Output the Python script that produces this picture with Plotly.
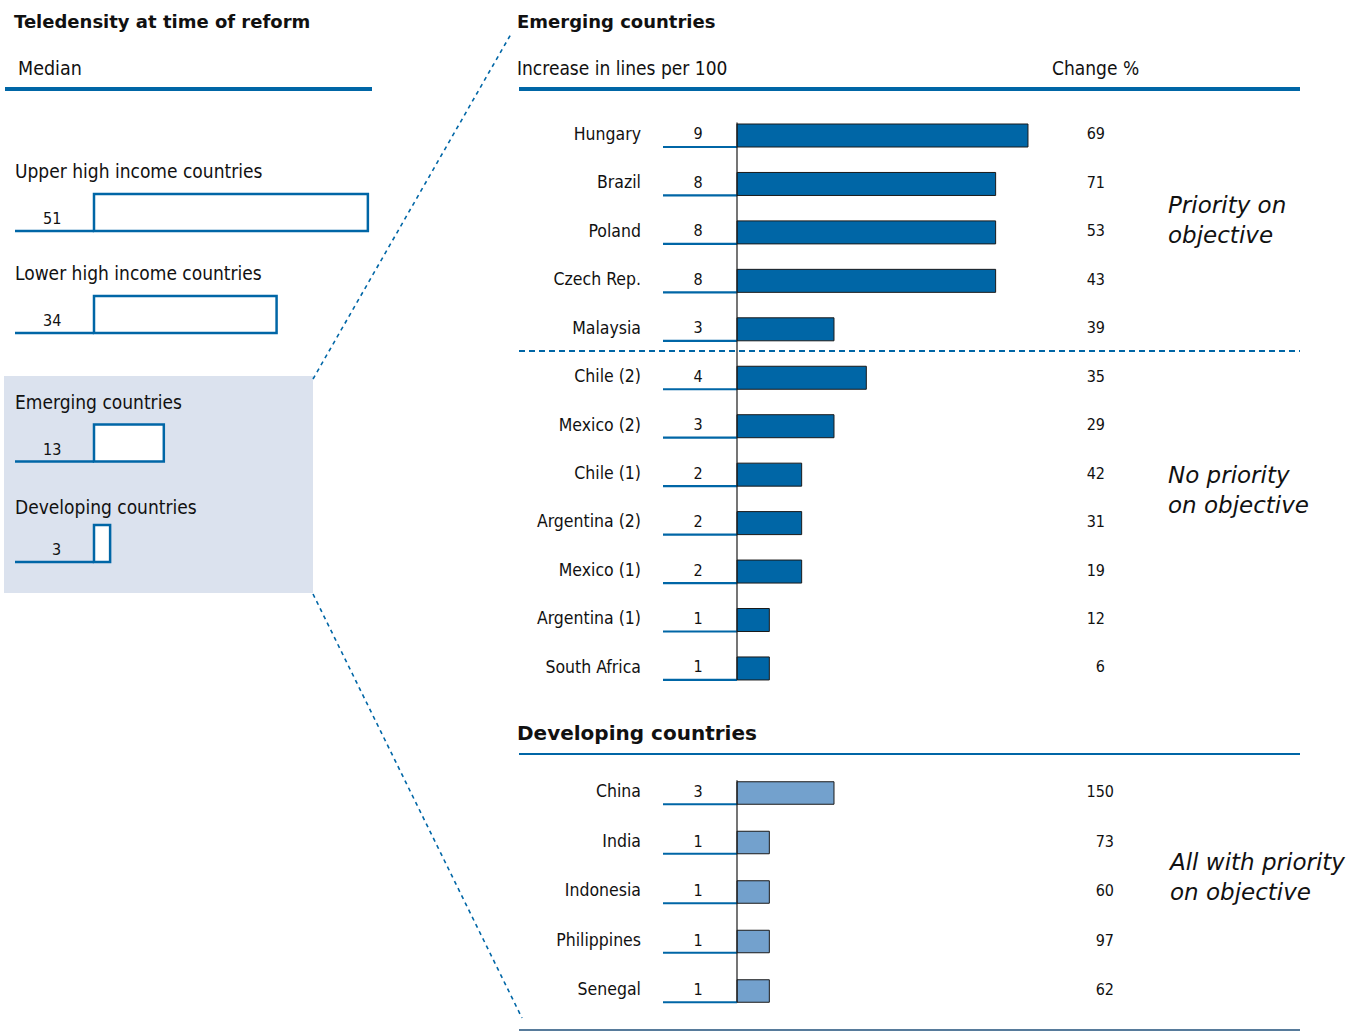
import plotly.graph_objects as go

W, H = 1357, 1032
BLUE = "#0066a6"
LIGHT = "#73a1cd"
SHADE = "#dbe2ee"
DARK = "#1a1a1a"
NARROW = "Liberation Sans Narrow, Arial Narrow, DejaVu Sans Condensed, Roboto Condensed, sans-serif"
HEAD = "DejaVu Sans, Verdana, sans-serif"

# ---------------- data ----------------
emerging_countries = ["Hungary", "Brazil", "Poland", "Czech Rep.", "Malaysia",
                      "Chile (2)", "Mexico (2)", "Chile (1)", "Argentina (2)",
                      "Mexico (1)", "Argentina (1)", "South Africa"]
emerging_increase = [9, 8, 8, 8, 3, 4, 3, 2, 2, 2, 1, 1]
emerging_change = [69, 71, 53, 43, 39, 35, 29, 42, 31, 19, 12, 6]

developing_countries = ["China", "India", "Indonesia", "Philippines", "Senegal"]
developing_increase = [3, 1, 1, 1, 1]
developing_change = [150, 73, 60, 97, 62]

median_groups_high = ["Upper high income countries", "Lower high income countries"]
median_values_high = [51, 34]
median_groups_low = ["Emerging countries", "Developing countries"]
median_values_low = [13, 3]

group_notes = ["Priority on<br>objective", "No priority<br>on objective",
               "All with priority<br>on objective"]

# ---------------- geometry helpers ----------------
def xp(px):
    return px / W

def yp(py):
    return 1 - py / H

U = 32.33          # px per line (right panel)
X0 = 737           # px of zero (right panel)
def rx(px):
    return (px - X0) / U

U2 = 5.37          # px per line (left panel)
LX0 = 94
def lx(px):
    return (px - LX0) / U2

S1, TOP1 = 48.45, 135.5 - 48.45 / 2
S2, TOP2 = 49.5, 793 - 49.5 / 2
S3, TOP3 = 102.0, 212.5 - 51.0
S4, TOP4 = 100.5, 443 - 50.25

BW1 = 23 / S1
BW2 = 22.5 / S2
BW3 = 37 / S3
BW4 = 37 / S4

fig = go.Figure()

# ---------------- right panel bars ----------------
fig.add_trace(go.Bar(
    x=emerging_increase, y=emerging_countries, orientation="h",
    xaxis="x", yaxis="y", width=BW1,
    marker=dict(color=BLUE, line=dict(color=DARK, width=1)), hoverinfo="skip"))
fig.add_trace(go.Bar(
    x=developing_increase, y=developing_countries, orientation="h",
    xaxis="x", yaxis="y2", width=BW2,
    marker=dict(color=LIGHT, line=dict(color=DARK, width=1)), hoverinfo="skip"))

def text_trace(xv, cats, texts, yax, pos, size, xax="x", color="#111"):
    return go.Scatter(
        x=[xv] * len(cats), y=cats, text=[str(t) for t in texts], mode="text",
        textposition=pos, xaxis=xax, yaxis=yax, cliponaxis=False,
        textfont=dict(family=NARROW, size=size, color=color), hoverinfo="skip")

# country names
fig.add_trace(text_trace(rx(641), emerging_countries, emerging_countries, "y", "middle left", 17.5))
fig.add_trace(text_trace(rx(641), developing_countries, developing_countries, "y2", "middle left", 17.5))
# increase values
fig.add_trace(text_trace(rx(698), emerging_countries, emerging_increase, "y", "middle center", 16))
fig.add_trace(text_trace(rx(698), developing_countries, developing_increase, "y2", "middle center", 16))
# change %
fig.add_trace(text_trace(rx(1105), emerging_countries, emerging_change, "y", "middle left", 16))
fig.add_trace(text_trace(rx(1114), developing_countries, developing_change, "y2", "middle left", 16))

# ---------------- left panel bars ----------------
fig.add_trace(go.Bar(
    x=median_values_high, y=median_groups_high, orientation="h",
    xaxis="x2", yaxis="y3", width=BW3,
    marker=dict(color="white", line=dict(color=BLUE, width=2.5)), hoverinfo="skip"))
fig.add_trace(go.Bar(
    x=median_values_low, y=median_groups_low, orientation="h",
    xaxis="x2", yaxis="y4", width=BW4,
    marker=dict(color="white", line=dict(color=BLUE, width=2.5)), hoverinfo="skip"))

shapes = []
annotations = []

# background shade for emerging / developing block
shapes.append(dict(type="rect", xref="paper", yref="paper", layer="below",
                   x0=xp(4), x1=xp(313), y0=yp(593), y1=yp(376),
                   fillcolor=SHADE, line=dict(width=0)))

# underlines + vertical axis lines (right)
for cats, yax, bw in [(emerging_countries, "y", BW1), (developing_countries, "y2", BW2)]:
    for i, _ in enumerate(cats):
        shapes.append(dict(type="line", xref="x", yref=yax,
                           x0=rx(663), x1=0, y0=i + bw / 2, y1=i + bw / 2,
                           line=dict(color=BLUE, width=2.2)))
    shapes.append(dict(type="line", xref="x", yref=yax, x0=0, x1=0,
                       y0=-bw / 2 - 0.03, y1=len(cats) - 1 + bw / 2,
                       line=dict(color=DARK, width=1.2)))

# underlines + labels (left)
label_shift = {"y3": [41, 41], "y4": [41, 37]}
for cats, vals, yax, bw in [(median_groups_high, median_values_high, "y3", BW3),
                            (median_groups_low, median_values_low, "y4", BW4)]:
    for i, (c, v) in enumerate(zip(cats, vals)):
        shapes.append(dict(type="line", xref="x2", yref=yax,
                           x0=lx(15), x1=0, y0=i + bw / 2, y1=i + bw / 2,
                           line=dict(color=BLUE, width=2.5)))
        annotations.append(dict(xref="x2", yref=yax, x=lx(63), y=i, text=str(v),
                                xanchor="right", yanchor="middle", yshift=-6, showarrow=False,
                                font=dict(family=NARROW, size=16, color="#111")))
        annotations.append(dict(xref="x2", yref=yax, x=lx(13), y=i, text=c,
                                xanchor="left", yanchor="middle", yshift=label_shift[yax][i],
                                showarrow=False,
                                font=dict(family=NARROW, size=19, color="#111")))

# header rules
def pline(x0, y0, x1, y1, color=BLUE, width=4, dash="solid"):
    shapes.append(dict(type="line", xref="paper", yref="paper",
                       x0=xp(x0), x1=xp(x1), y0=yp(y0), y1=yp(y1),
                       line=dict(color=color, width=width, dash=dash)))

pline(5, 89, 372, 89)
pline(519, 89, 1300, 89)
pline(519, 351, 1300, 351, width=2, dash="6px,4px")
pline(519, 754, 1300, 754, width=2)
pline(519, 1030, 1300, 1030, color="#1f4f7a", width=1.5)
# zoom connector lines
pline(313, 379, 511, 34, width=1.6, dash="4px,4px")
pline(313, 594, 522, 1018, width=1.6, dash="4px,4px")

def ptext(x, y, text, size, family=NARROW, xanchor="left"):
    annotations.append(dict(xref="paper", yref="paper", x=xp(x), y=yp(y), text=text,
                            xanchor=xanchor, yanchor="middle", showarrow=False, align="left",
                            font=dict(family=family, size=size, color="#111")))

ptext(12, 21, "<b>Teledensity at time of reform</b>", 18, HEAD)
ptext(16, 68, "Median", 19.5)
ptext(515, 21, "<b>Emerging countries</b>", 18, HEAD)
ptext(515, 68, "Increase in lines per 100", 19)
ptext(1050, 68, "Change %", 19)
ptext(515, 733, "<b>Developing countries</b>", 20, HEAD)

for note, yc in zip(group_notes, [220, 490, 877]):
    ptext(1166, yc, "<i>" + note + "</i>", 23, HEAD)

axis_off = dict(showgrid=False, zeroline=False, showticklabels=False, showline=False,
                ticks="", fixedrange=True)

fig.update_layout(
    width=W, height=H, margin=dict(l=0, r=0, t=0, b=0),
    paper_bgcolor="white", plot_bgcolor="rgba(0,0,0,0)",
    showlegend=False, barmode="overlay",
    shapes=shapes, annotations=annotations,
    xaxis=dict(domain=[xp(500), 1], range=[rx(500), rx(W)], anchor="y", **axis_off),
    yaxis=dict(domain=[yp(TOP1 + 12 * S1), yp(TOP1)], type="category",
               categoryorder="array", categoryarray=emerging_countries,
               range=[11.5, -0.5], anchor="x", **axis_off),
    yaxis2=dict(domain=[yp(TOP2 + 5 * S2), yp(TOP2)], type="category",
                categoryorder="array", categoryarray=developing_countries,
                range=[4.5, -0.5], anchor="x", **axis_off),
    xaxis2=dict(domain=[0, xp(500)], range=[lx(0), lx(500)], anchor="y3", **axis_off),
    yaxis3=dict(domain=[yp(TOP3 + 2 * S3), yp(TOP3)], type="category",
                categoryorder="array", categoryarray=median_groups_high,
                range=[1.5, -0.5], anchor="x2", **axis_off),
    yaxis4=dict(domain=[yp(TOP4 + 2 * S4), yp(TOP4)], type="category",
                categoryorder="array", categoryarray=median_groups_low,
                range=[1.5, -0.5], anchor="x2", **axis_off),
)

fig.write_html("out.html")
